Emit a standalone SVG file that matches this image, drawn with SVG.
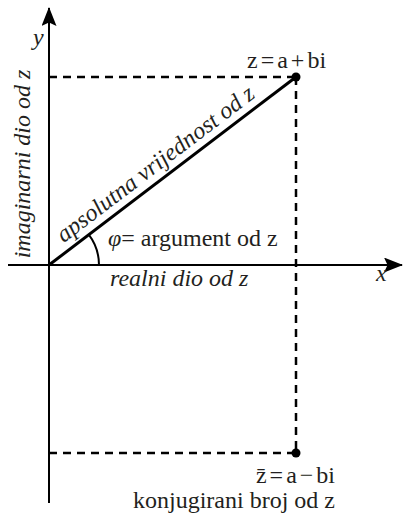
<svg xmlns="http://www.w3.org/2000/svg" width="403" height="515" viewBox="0 0 403 515">
<style>
.ax{stroke:#000;stroke-width:2;fill:none}
.dash{stroke:#000;stroke-width:2.5;stroke-dasharray:8 6;fill:none}
text{font-family:'Liberation Serif','Times New Roman',serif;font-size:24px;fill:#231f20}
.i{font-style:italic}
</style>
<defs>
<marker id="ah" markerWidth="19" markerHeight="15" refX="18" refY="7.5" orient="auto" markerUnits="userSpaceOnUse">
<path d="M0,0 L19,7.5 L0,15 L3.5,7.5 Z" fill="#000"/>
</marker>
</defs>
<g id="connectors">
<line class="ax" x1="49" y1="503" x2="49" y2="8" marker-end="url(#ah)"/>
<line class="ax" x1="8" y1="265" x2="402" y2="265" marker-end="url(#ah)"/>
<line class="dash" x1="49" y1="77" x2="296" y2="77"/>
<line class="dash" x1="296" y1="77" x2="296" y2="453"/>
<line class="dash" x1="49" y1="453" x2="296" y2="453"/>
<line x1="49" y1="265" x2="296" y2="77" stroke="#000" stroke-width="3"/>
<path class="ax" d="M99,265 A50,50 0 0 0 88.8,234.7" stroke-width="1.5"/>
</g>
<g id="z">
<circle cx="296" cy="77" r="4.5" fill="#000"/>
<text x="247" y="68">z<tspan dx="3">=</tspan><tspan dx="3">a</tspan><tspan dx="3">+</tspan><tspan dx="3">bi</tspan></text>
</g>
<g id="zbar">
<circle cx="296" cy="453" r="4.5" fill="#000"/>
<text x="335" y="483" text-anchor="end">z̄<tspan dx="3">=</tspan><tspan dx="3">a</tspan><tspan dx="3">−</tspan><tspan dx="3">bi</tspan></text>
<text x="335" y="508" text-anchor="end">konjugirani broj od z</text>
</g>
<g id="labels">
<text class="i" x="33" y="45">y</text>
<text class="i" x="376" y="281">x</text>
<text class="i" transform="translate(30,164) rotate(-90)" text-anchor="middle" font-size="23">imaginarni dio od z</text>
<text class="i" transform="translate(160,170) rotate(-37.3)" text-anchor="middle">apsolutna vrijednost od z</text>
<text x="108" y="246"><tspan class="i">φ</tspan>= argument od z</text>
<text class="i" x="110" y="286">realni dio od z</text>
</g>
</svg>
